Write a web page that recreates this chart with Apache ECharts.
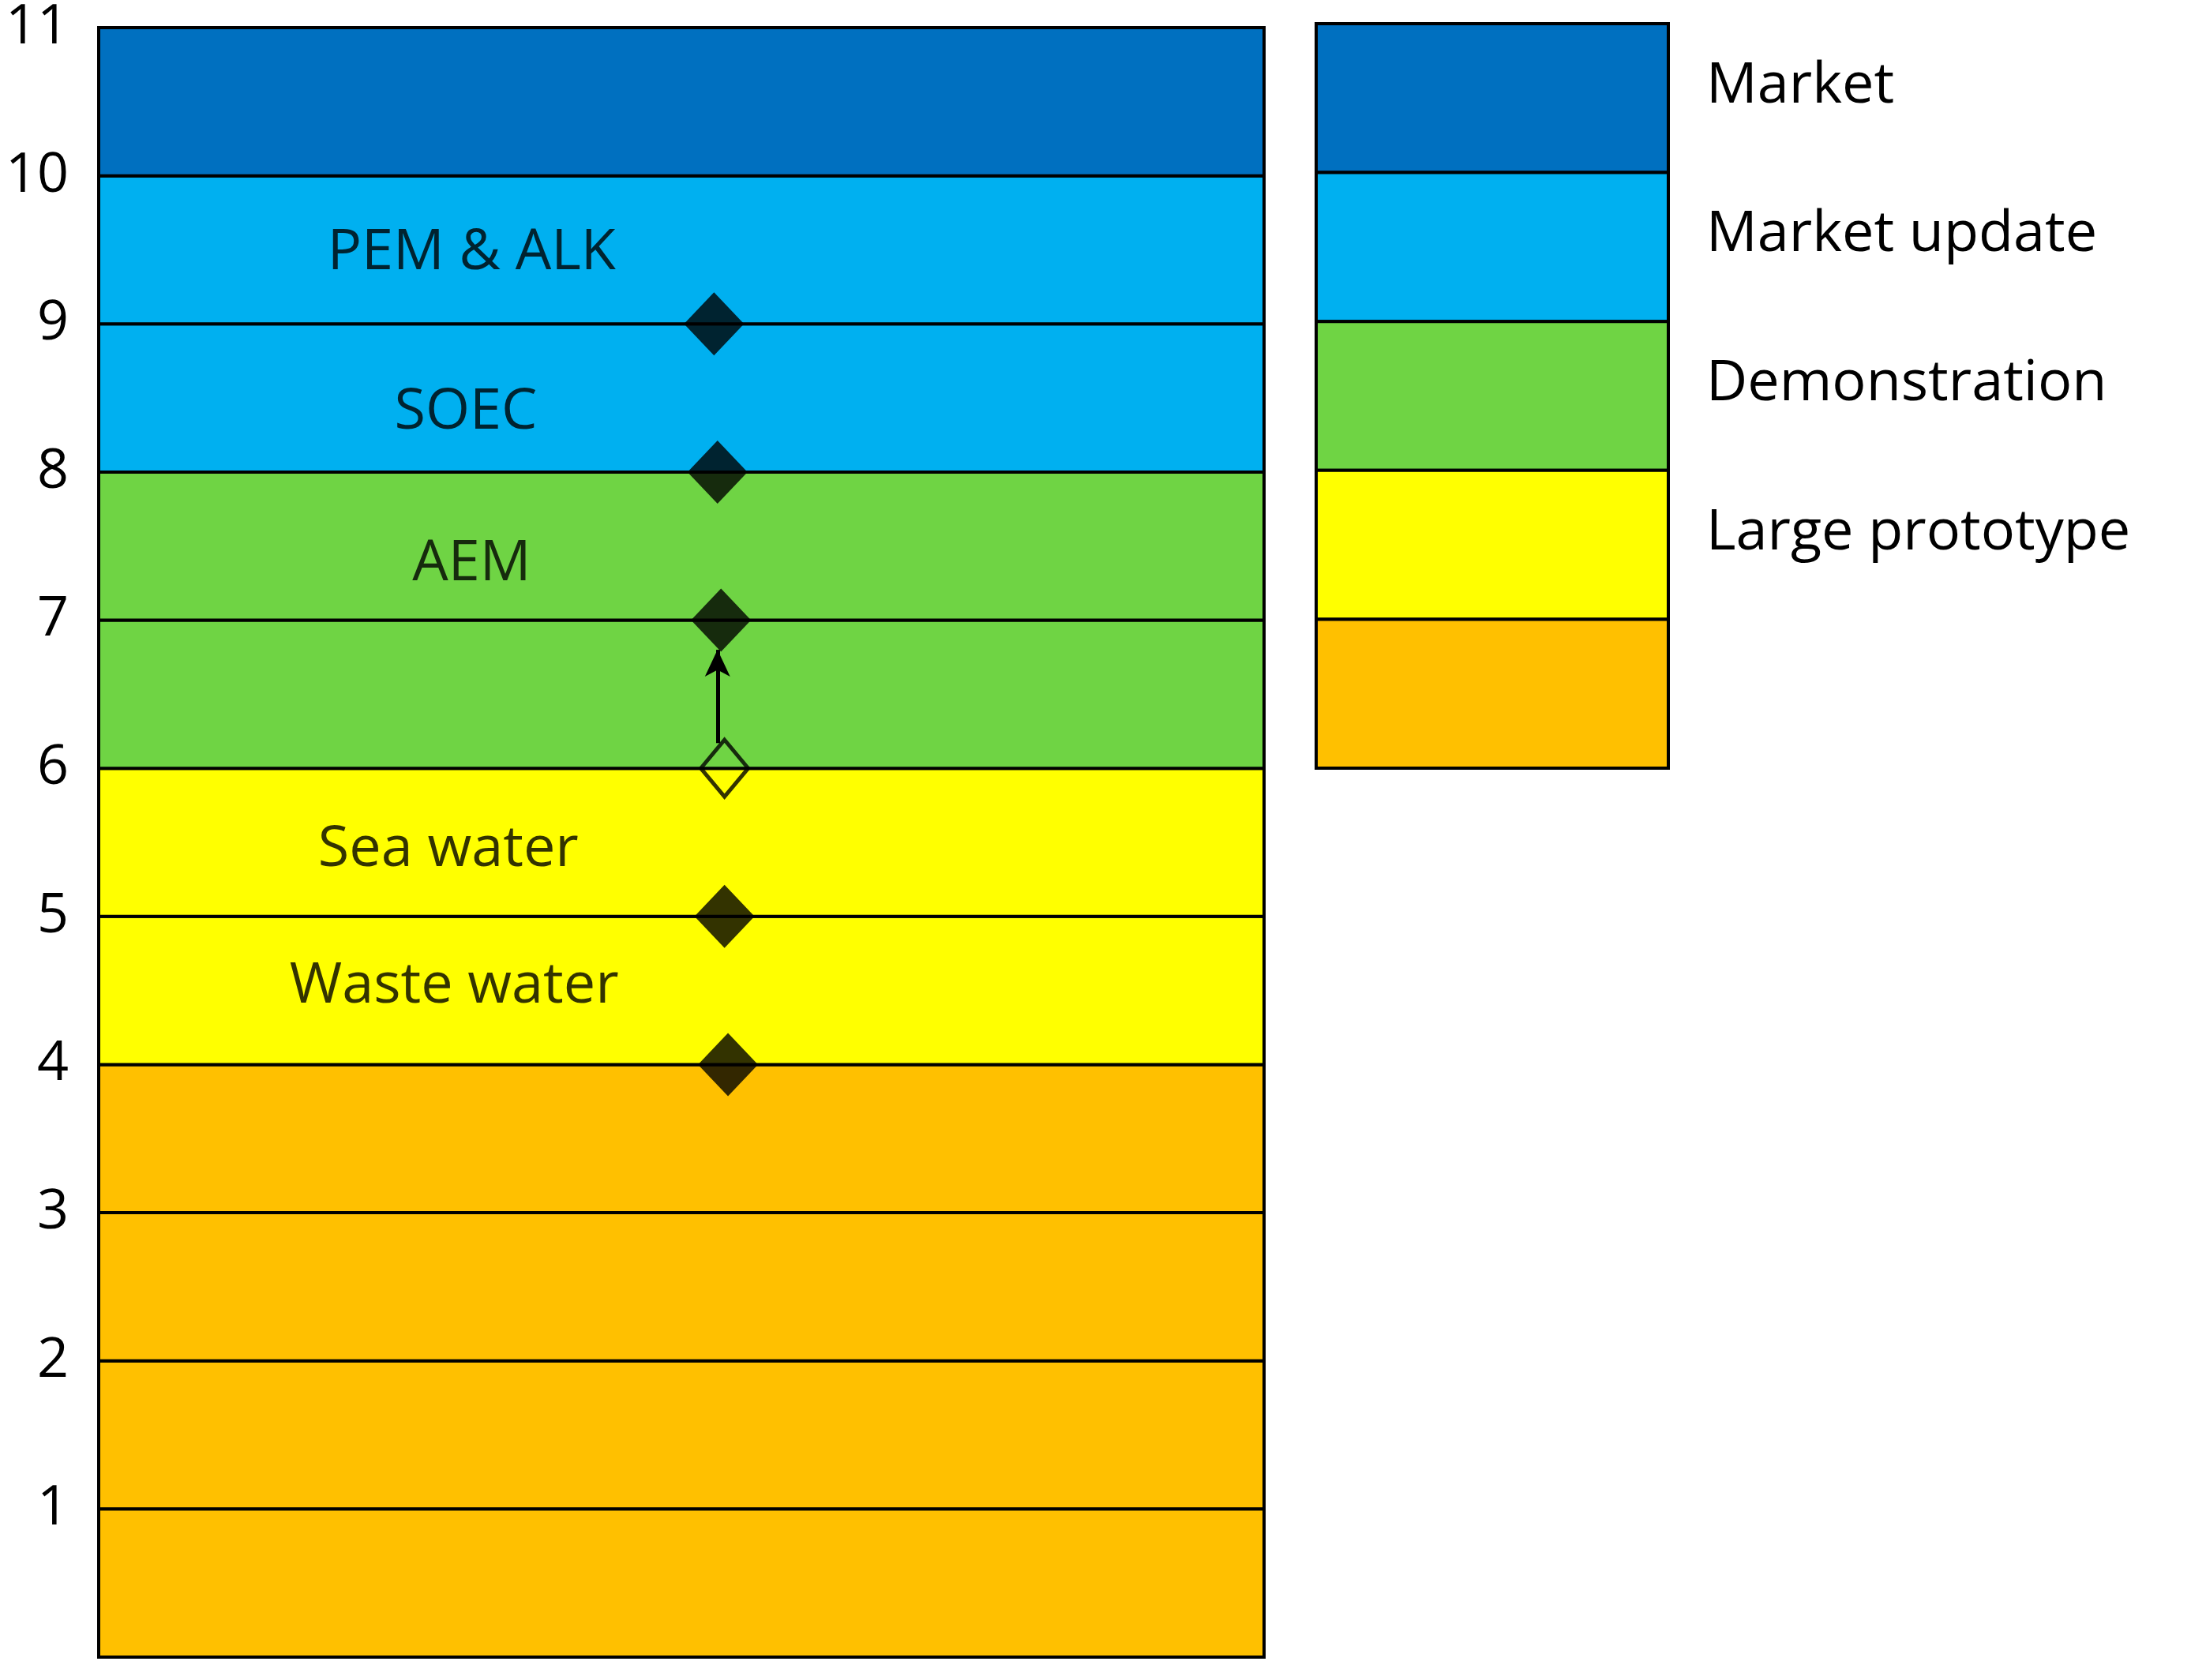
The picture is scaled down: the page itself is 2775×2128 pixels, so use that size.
<!DOCTYPE html>
<html><head><meta charset="utf-8">
<script src="https://cdn.jsdelivr.net/npm/echarts@6/dist/echarts.min.js"></script>
<style>html,body{margin:0;background:#fff}#c{width:2775px;height:2128px}</style>
</head><body><div id="c"></div>
<script>
// colour of each unit band, from level 0-1 up to 10-11
const unitColors = ['#FFC000','#FFC000','#FFC000','#FFC000','#FFFF00','#FFFF00',
  '#6FD444','#6FD444','#00B0F0','#00B0F0','#0070C0'];
// technologies: [x, level]
const techNames = ['PEM & ALK','SOEC','AEM','Sea water','Waste water'];
const techLevels = [9, 8, 7, 5, 4];
const techX = [0.528, 0.531, 0.534, 0.537, 0.540];
const labelPos = [[0.32, 9.48], [0.315, 8.4], [0.32, 7.38], [0.3, 5.45], [0.305, 4.53]];
const openPoint = [0.537, 6];
// legend, top to bottom
const legendColors = ['#0070C0','#00B0F0','#6FD444','#FFFF00','#FFC000'];
const legendNames = ['Market','Market update','Demonstration','Large prototype',''];

const chart = echarts.init(document.getElementById('c'));
const FONT = 'Open Sans';
chart.setOption({
  animation: false,
  grid: [
    {left: 125, width: 1476, top: 30, height: 2069},
    {left: 1667, width: 446, top: 30, height: 943}
  ],
  xAxis: [
    {gridIndex: 0, type: 'value', min: 0, max: 1, show: false},
    {gridIndex: 1, type: 'value', min: 0, max: 1, show: false}
  ],
  yAxis: [
    {gridIndex: 0, type: 'value', min: 0, max: 11, interval: 1,
     axisLine: {show: false}, axisTick: {show: false}, splitLine: {show: false},
     axisLabel: {fontSize: 70, color: '#000', fontFamily: FONT, margin: 38,
       formatter: v => v === 0 ? '' : String(v)}},
    {gridIndex: 1, type: 'value', min: 0, max: 5, show: false}
  ],
  series: [
    {
      type: 'custom', xAxisIndex: 0, yAxisIndex: 0, z: 1,
      data: unitColors.map((c, i) => [i, i + 1, c]),
      renderItem: (p, api) => {
        const a = api.coord([0, api.value(1)]);
        const b = api.coord([1, api.value(0)]);
        return {type: 'rect', shape: {x: a[0], y: a[1], width: b[0] - a[0], height: b[1] - a[1]},
          style: {fill: unitColors[p.dataIndex], stroke: '#000', lineWidth: 4}};
      }
    },
    {
      type: 'custom', xAxisIndex: 1, yAxisIndex: 1, z: 1,
      data: legendColors.map((c, i) => [4 - i, 5 - i]),
      renderItem: (p, api) => {
        const a = api.coord([0, api.value(1)]);
        const b = api.coord([1, api.value(0)]);
        return {type: 'group', children: [
          {type: 'rect', shape: {x: a[0], y: a[1], width: b[0] - a[0], height: b[1] - a[1]},
           style: {fill: legendColors[p.dataIndex], stroke: '#000', lineWidth: 4}},
          {type: 'text', style: {x: b[0] + 48, y: a[1] + (b[1] - a[1]) * 0.42,
            text: legendNames[p.dataIndex], fill: '#000', fontSize: 72, fontFamily: FONT,
            verticalAlign: 'middle', align: 'left'}}
        ]};
      }
    },
    {
      type: 'scatter', xAxisIndex: 0, yAxisIndex: 0, z: 5,
      symbol: 'diamond', symbolSize: [76, 80],
      itemStyle: {color: '#000'},
      data: techLevels.map((v, i) => [techX[i], v])
    },
    {
      type: 'scatter', xAxisIndex: 0, yAxisIndex: 0, z: 5,
      symbol: 'diamond', symbolSize: [60, 72],
      itemStyle: {color: 'rgba(0,0,0,0)', borderColor: '#000', borderWidth: 5},
      data: [openPoint],
      markLine: {
        silent: true, symbol: ['none', 'arrow'], symbolSize: [24, 34],
        label: {show: false},
        lineStyle: {color: '#000', width: 5, type: 'solid'},
        data: [[{coord: [openPoint[0] - 0.006, 6.17]}, {coord: [openPoint[0] - 0.006, 6.8]}]]
      }
    },
    {
      type: 'scatter', xAxisIndex: 0, yAxisIndex: 0, z: 6, symbolSize: 0,
      label: {show: true, position: 'inside', fontSize: 72, color: '#000', fontFamily: FONT,
        formatter: p => techNames[p.dataIndex]},
      data: labelPos
    }
  ]
});
</script></body></html>
